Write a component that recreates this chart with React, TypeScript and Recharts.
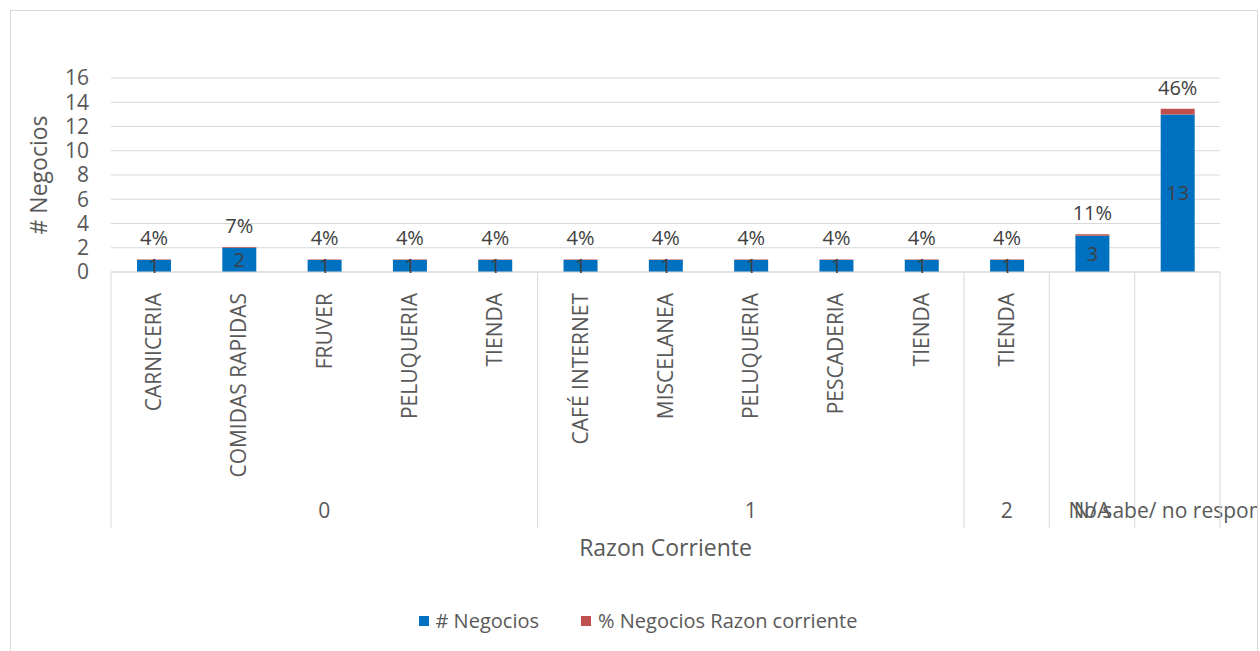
import {
  BarChart,
  Bar,
  XAxis,
  YAxis,
  CartesianGrid,
  Legend,
  LabelList,
} from 'recharts';

const categories = [
  'CARNICERIA',
  'COMIDAS RAPIDAS',
  'FRUVER',
  'PELUQUERIA',
  'TIENDA',
  'CAFÉ INTERNET',
  'MISCELANEA',
  'PELUQUERIA',
  'PESCADERIA',
  'TIENDA',
  'TIENDA',
  '',
  '',
];
const groupNames = ['0', '1', '2', 'N/A', 'No sabe/ no responde'];
const groupSizes = [5, 5, 1, 1, 1];
const negocios = [1, 2, 1, 1, 1, 1, 1, 1, 1, 1, 1, 3, 13];
const porcentajes = [0.04, 0.07, 0.04, 0.04, 0.04, 0.04, 0.04, 0.04, 0.04, 0.04, 0.04, 0.11, 0.46];
const yTicks = [0, 2, 4, 6, 8, 10, 12, 14, 16];

const W = 1248;
const H = 640;
const X_H = 256;
const M = { top: 67, right: 39, bottom: H - 67 - 194 - X_H, left: 30 };
const Y_W = 70;
const BAND = (W - M.left - M.right - Y_W) / categories.length;

const BLUE = '#0070C0';
const RED = '#C0504D';
const GRID = '#d9d9d9';
const TXT = '#595959';

// index of first category of each group
const groupStart: number[] = [];
groupSizes.reduce((acc, n) => {
  groupStart.push(acc);
  return acc + n;
}, 0);

const data = categories.map((name, i) => ({
  id: String(i),
  name,
  negocios: negocios[i],
  pct: porcentajes[i],
}));

const CategoryTick = (props: any) => {
  const { x, y, payload } = props;
  const i = payload.index;
  const g = groupStart.indexOf(i);
  const isLast = i === categories.length - 1;
  return (
    <g>
      <text
        x={x}
        y={y + 21}
        dy='0.35em'
        transform={`rotate(-90, ${x}, ${y + 21})`}
        textAnchor='end'
        fill={TXT}
        fontSize={21}
      >
        {categories[i]}
      </text>
      {g >= 0 && (
        <>
          <line x1={x - BAND / 2} x2={x - BAND / 2} y1={y} y2={y + X_H} stroke={GRID} />
          <text
            x={x + ((groupSizes[g] - 1) * BAND) / 2}
            y={y + 239}
            dy='0.35em'
            textAnchor='middle'
            fill={TXT}
            fontSize={21}
          >
            {groupNames[g]}
          </text>
        </>
      )}
      {isLast && (
        <line x1={x + BAND / 2} x2={x + BAND / 2} y1={y} y2={y + X_H} stroke={GRID} />
      )}
    </g>
  );
};

const LegendContent = () => (
  <div
    style={{
      display: 'flex',
      justifyContent: 'center',
      gap: 42,
      fontSize: 20,
      color: TXT,
      paddingLeft: 6,
    }}
  >
    {[
      { c: BLUE, t: '# Negocios' },
      { c: RED, t: '% Negocios Razon corriente' },
    ].map((it) => (
      <div key={it.t} style={{ display: 'flex', alignItems: 'center', gap: 7 }}>
        <span style={{ width: 10, height: 10, background: it.c, display: 'inline-block' }} />
        <span>{it.t}</span>
      </div>
    ))}
  </div>
);

export default function App() {
  return (
    <div
      style={{
        position: 'absolute',
        left: 10,
        top: 10,
        width: W,
        height: 660,
        border: `1px solid ${GRID}`,
        overflow: 'hidden',
        background: '#fff',
        fontFamily: '"Open Sans", sans-serif',
        boxSizing: 'border-box',
      }}
    >
      <BarChart width={W} height={H} data={data} margin={M} barSize={34}>
        <CartesianGrid vertical={false} stroke={GRID} />
        <XAxis
          dataKey='id'
          height={X_H}
          interval={0}
          tickLine={false}
          tickSize={0}
          tickMargin={0}
          axisLine={{ stroke: GRID }}
          tick={<CategoryTick />}
          label={{
            value: 'Razon Corriente',
            position: 'bottom',
            offset: 12,
            fill: TXT,
            fontSize: 23,
          }}
        />
        <YAxis
          width={Y_W}
          domain={[0, 16]}
          ticks={yTicks}
          interval={0}
          axisLine={false}
          tickLine={false}
          tickMargin={16}
          tick={{ fill: TXT, fontSize: 21 }}
          label={{
            value: '# Negocios',
            angle: -90,
            position: 'center',
            dx: -37,
            fill: TXT,
            fontSize: 23,
          }}
        />
        <Legend
          layout='horizontal'
          verticalAlign='middle'
          align='center'
          wrapperStyle={{ top: 596, left: 0, width: W }}
          content={<LegendContent />}
        />
        <Bar dataKey='negocios' stackId='a' fill={BLUE} isAnimationActive={false}>
          <LabelList dataKey='negocios' position='center' fill='#404040' fontSize={20} />
        </Bar>
        <Bar dataKey='pct' stackId='a' fill={RED} isAnimationActive={false}>
          <LabelList
            dataKey='pct'
            position='top'
            offset={14}
            fill='#404040'
            fontSize={20}
            formatter={(v: any) => `${Math.round(Number(v) * 100)}%`}
          />
        </Bar>
      </BarChart>
    </div>
  );
}
